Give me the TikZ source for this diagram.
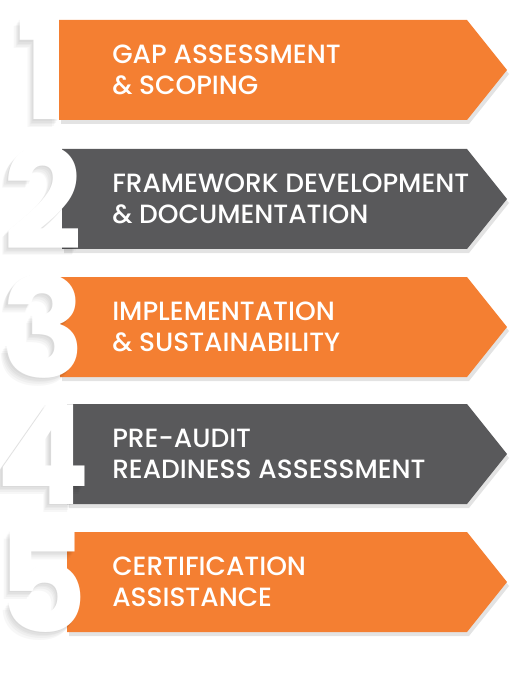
\documentclass[tikz,border=0pt]{standalone}
\usepackage{xcolor}
\usepackage{fontspec}
\setmainfont{Poppins}[UprightFont=* Medium,BoldFont=* Bold]
\usepackage{tikz}
\usetikzlibrary{positioning,%
  calc,%
  shapes,%
  shadows
}
\definecolor{steporange}{HTML}{F47F32}
\definecolor{stepgrey}{HTML}{59595B}

\begin{document}
\begin{tikzpicture}[x=0.75pt,y=-0.75pt,
    banner/.style={fill=#1,drop shadow={opacity=0.22,shadow xshift=1.5pt,shadow yshift=-3pt}},
    steptext/.style={text=white,anchor=west,align=left,inner sep=0pt,font=\fontsize{19.8}{23.2}\selectfont},
    numtext/.style={anchor=base,inner sep=0pt,font=\fontsize{104}{104}\selectfont\bfseries}]
            \useasboundingbox (0,0) rectangle (516,673);
            % banners with their captions
            \foreach \i/\top/\lft/\col/\txt in {1/20/59/steporange/{GAP ASSESSMENT\\\& SCOPING},
                2/149/62/stepgrey/{FRAMEWORK DEVELOPMENT\\\& DOCUMENTATION},
                3/277/60/steporange/{IMPLEMENTATION\\\& SUSTAINABILITY},
                4/404/67/stepgrey/{PRE-AUDIT\\READINESS ASSESSMENT},
                5/532/67/steporange/{CERTIFICATION\\ASSISTANCE}} {
                \fill[banner=\col] (\lft,\top) -- (467,\top) -- (507,\top+50) -- (467,\top+100) -- (\lft,\top+100) -- cycle;
                \node[steptext] (t\i) at (112,\top+50) {\txt};
            }
            % big numbers, shadow first
            \foreach \i/\top in {1/20,2/149,3/277,4/404,5/532} {
                \foreach \k in {1,...,5}
                    \node[numtext,text=black,opacity=0.03] (s\i-\k) at (43-1.2*\k,\top+100+1.6*\k) {\i};
                \node[numtext,text=white] (n\i) at (43,\top+100) {\i};
            }
        \end{tikzpicture}
\end{document}
